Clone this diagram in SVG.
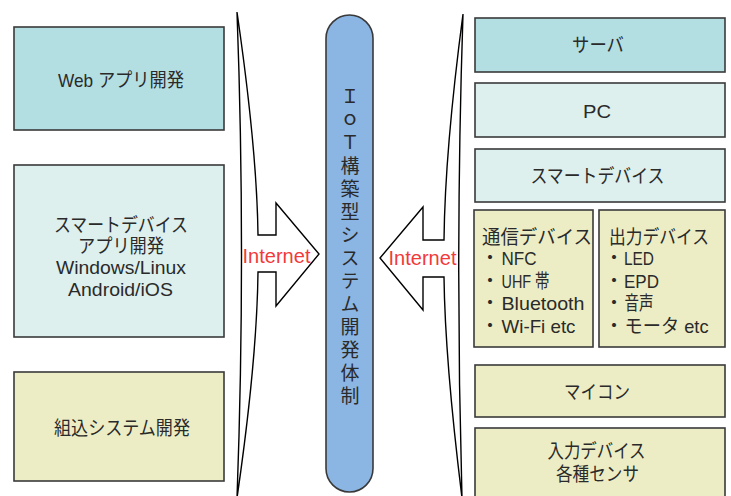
<svg xmlns="http://www.w3.org/2000/svg" width="731" height="496" viewBox="0 0 731 496">
<style>
.box{stroke:#3a3a3a;stroke-width:1.6}
.c1{fill:#b3dfe3}
.c2{fill:#ddf0ed}
.c3{fill:#ecedc5}
.t{font-family:"Liberation Sans","Noto Sans CJK JP",sans-serif;font-size:19px;fill:#2a2a2a}
.j{font-family:"Noto Sans CJK JP",sans-serif;font-size:19px;fill:#2a2a2a}
.m{text-anchor:middle}
.net{font-family:"Liberation Sans",sans-serif;font-size:21px;fill:#f23a3a}
.wedge{fill:#ffffff;stroke:#000000;stroke-width:1.4;stroke-linejoin:miter}
</style>
<rect width="731" height="496" fill="#ffffff"/>
<g id="connectors">
<path class="wedge" d="M237,12 Q257,150 258,235 L276,235 L276,203 L319,254 L276,306 L276,272 L258,272 Q257,360 237,498 Q246,254 237,12 Z"/>
<path class="wedge" d="M463,14 Q445,150 444,240 L423,240 L423,207 L380,258 L423,310 L423,277 L444,277 Q445,360 462,498 Q455,255 463,14 Z"/>
<text class="net" x="242.5" y="262.5" textLength="68" lengthAdjust="spacingAndGlyphs">Internet</text>
<text class="net" x="388.5" y="265" textLength="68" lengthAdjust="spacingAndGlyphs">Internet</text>
</g>
<g id="web">
<rect class="box c1" x="14" y="27" width="210" height="103"/>
<text class="t m" x="121" y="86.5" textLength="126" lengthAdjust="spacingAndGlyphs">Web アプリ開発</text>
</g>
<g id="smartapp">
<rect class="box c2" x="14" y="165" width="210" height="172"/>
<text class="t m" x="121" y="232" textLength="134" lengthAdjust="spacingAndGlyphs">スマートデバイス</text>
<text class="t m" x="121" y="252.5" textLength="86" lengthAdjust="spacingAndGlyphs">アプリ開発</text>
<text class="t m" x="121" y="274" textLength="130" lengthAdjust="spacingAndGlyphs">Windows/Linux</text>
<text class="t m" x="120.5" y="295.5" textLength="105" lengthAdjust="spacingAndGlyphs">Android/iOS</text>
</g>
<g id="embedded">
<rect class="box c3" x="14" y="372" width="210" height="109"/>
<text class="t m" x="122" y="435" textLength="136" lengthAdjust="spacingAndGlyphs">組込システム開発</text>
</g>
<g id="iot">
<rect x="326" y="15" width="47" height="477" rx="23.5" ry="23.5" fill="#8bb5e2" stroke="#3a3a3a" stroke-width="1.6"/>
<text class="j" x="350" y="87" style="writing-mode:vertical-rl;text-orientation:upright;letter-spacing:4px">ＩｏＴ構築型システム開発体制</text>
</g>
<g id="server">
<rect class="box c1" x="475" y="18" width="250" height="54"/>
<text class="t m" x="598" y="52" textLength="52" lengthAdjust="spacingAndGlyphs">サーバ</text>
</g>
<g id="pc">
<rect class="box c2" x="475" y="83" width="250" height="54"/>
<text class="t m" x="597" y="118" textLength="28" lengthAdjust="spacingAndGlyphs">PC</text>
</g>
<g id="smartdevice">
<rect class="box c2" x="475" y="149" width="250" height="53"/>
<text class="t m" x="597.5" y="183" textLength="134" lengthAdjust="spacingAndGlyphs">スマートデバイス</text>
</g>
<g id="comm">
<rect class="box c3" x="474" y="210" width="119" height="137"/>
<text class="t" x="482" y="244" textLength="110" lengthAdjust="spacingAndGlyphs">通信デバイス</text>
<text class="t" y="265"><tspan x="480.5">・</tspan><tspan x="501.5" textLength="35" lengthAdjust="spacingAndGlyphs">NFC</tspan></text>
<text class="t" y="287.5"><tspan x="480.5">・</tspan><tspan x="501.5" textLength="48" lengthAdjust="spacingAndGlyphs">UHF 帯</tspan></text>
<text class="t" y="310"><tspan x="480.5">・</tspan><tspan x="501.5" textLength="83" lengthAdjust="spacingAndGlyphs">Bluetooth</tspan></text>
<text class="t" y="332.5"><tspan x="480.5">・</tspan><tspan x="501.5" textLength="74" lengthAdjust="spacingAndGlyphs">Wi-Fi etc</tspan></text>
</g>
<g id="output">
<rect class="box c3" x="599" y="210" width="126" height="137"/>
<text class="t" x="609" y="244" textLength="100" lengthAdjust="spacingAndGlyphs">出力デバイス</text>
<text class="t" y="265"><tspan x="604.5">・</tspan><tspan x="624" textLength="30" lengthAdjust="spacingAndGlyphs">LED</tspan></text>
<text class="t" y="287.5"><tspan x="604.5">・</tspan><tspan x="624" textLength="35" lengthAdjust="spacingAndGlyphs">EPD</tspan></text>
<text class="t" y="310"><tspan x="604.5">・</tspan><tspan x="624.5" textLength="29" lengthAdjust="spacingAndGlyphs">音声</tspan></text>
<text class="t" y="332.5"><tspan x="604.5">・</tspan><tspan x="624.5" textLength="84" lengthAdjust="spacingAndGlyphs">モータ etc</tspan></text>
</g>
<g id="mcu">
<rect class="box c3" x="475" y="365" width="250" height="52"/>
<text class="t m" x="597" y="399" textLength="66" lengthAdjust="spacingAndGlyphs">マイコン</text>
</g>
<g id="input">
<rect class="box c3" x="475" y="428" width="250" height="72"/>
<text class="t m" x="596.5" y="458" textLength="98" lengthAdjust="spacingAndGlyphs">入力デバイス</text>
<text class="t m" x="597.5" y="481" textLength="83" lengthAdjust="spacingAndGlyphs">各種センサ</text>
</g>
</svg>
